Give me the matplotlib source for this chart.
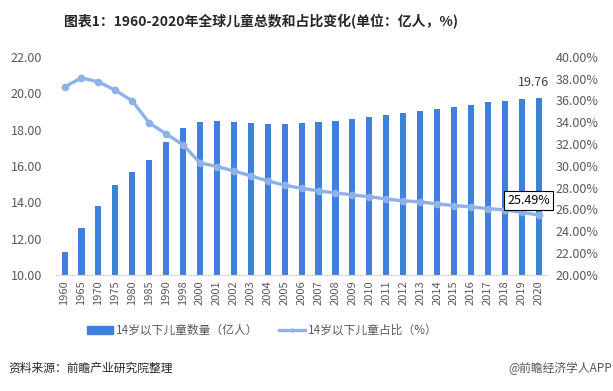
import matplotlib.pyplot as plt
import numpy as np

plt.rcParams['font.family'] = ['Noto Sans CJK SC', 'DejaVu Sans']

years = ['1960', '1965', '1970', '1975', '1980', '1985', '1990', '1998',
         '2000', '2001', '2002', '2003', '2004', '2005', '2006', '2007',
         '2008', '2009', '2010', '2011', '2012', '2013', '2014', '2015',
         '2016', '2017', '2018', '2019', '2020']
children = [11.28, 12.60, 13.81, 14.95, 15.67, 16.35, 17.34, 18.11,
            18.44, 18.49, 18.44, 18.37, 18.33, 18.33, 18.37, 18.44,
            18.49, 18.60, 18.71, 18.82, 18.93, 19.04, 19.15, 19.26,
            19.37, 19.50, 19.59, 19.69, 19.76]
share = [37.25, 38.07, 37.71, 36.94, 35.96, 33.94, 32.94, 31.93,
         30.28, 29.94, 29.54, 29.08, 28.62, 28.22, 27.94, 27.71,
         27.52, 27.34, 27.16, 26.97, 26.79, 26.70, 26.51, 26.36,
         26.24, 26.08, 25.96, 25.74, 25.49]

bar_color = '#3f80dc'
line_color = '#8fb1e9'
tick_color = '#595959'

fig = plt.figure(figsize=(6.13, 3.91), dpi=100)
ax = fig.add_axes([0.0915, 0.297, 0.801, 0.5575])
ax2 = ax.twinx()

x = np.arange(len(years))
ax.bar(x, children, width=0.36, color=bar_color, zorder=2)
ax2.plot(x, share, color=line_color, lw=2.4, marker='o', markersize=5.5,
         markeredgewidth=0, zorder=3)

ax.set_xlim(-0.5, len(years) - 0.5)
ax.set_ylim(10, 22)
ax.set_yticks(np.arange(10, 22.1, 2))
ax.set_yticklabels([f'{v:.2f}' for v in np.arange(10, 22.1, 2)])
ax2.set_ylim(20, 40)
ax2.set_yticks(np.arange(20, 40.1, 2))
ax2.set_yticklabels([f'{v:.2f}%' for v in np.arange(20, 40.1, 2)])

ax.set_xticks(x)
ax.set_xticklabels(years, rotation=90)

for a in (ax, ax2):
    for s in ('top', 'left', 'right'):
        a.spines[s].set_visible(False)
    a.spines['bottom'].set_color('#d9d9d9')
    a.tick_params(length=0, colors=tick_color, labelsize=9)
ax.tick_params(axis='y', pad=10)
ax2.tick_params(axis='y', pad=6)
ax.tick_params(axis='x', pad=4, labelsize=8)

# data labels
ax.annotate(f'{children[-1]:.2f}', (x[-1], children[-1]), xytext=(-4, 6),
            textcoords='offset points', ha='center', va='bottom',
            fontsize=9, color='#404040')
ax2.annotate(f'{share[-1]:.2f}%', (x[-1], share[-1]), xytext=(-7, 6),
             textcoords='offset points', ha='center', va='bottom',
             fontsize=9, color='black',
             bbox=dict(boxstyle='square,pad=0.25', fc='white', ec='black', lw=0.8))

# legend
h1 = plt.Rectangle((0, 0), 1, 1, color=bar_color)
h2 = plt.Line2D([], [], color=line_color, lw=2.4, marker='o', markersize=3,
                markeredgewidth=0)
fig.legend([h1, h2], ['14岁以下儿童数量（亿人）', '14岁以下儿童占比（%）'],
           loc='center', bbox_to_anchor=(0.428, 0.155), ncol=2, frameon=False,
           fontsize=8.5, labelcolor=tick_color, handlelength=2.2,
           handletextpad=0.2, columnspacing=1.8)

fig.text(0.426, 0.945, '图表1：1960-2020年全球儿童总数和占比变化(单位：亿人，%)',
         ha='center', va='center', fontsize=10, fontweight='bold',
         color='#262626')
fig.text(0.013, 0.058, '资料来源：前瞻产业研究院整理', ha='left', va='center',
         fontsize=8.5, color='#262626')
fig.text(0.998, 0.058, '@前瞻经济学人APP', ha='right', va='center',
         fontsize=8.5, color='#555555')

fig.savefig('out.png', dpi=100)
